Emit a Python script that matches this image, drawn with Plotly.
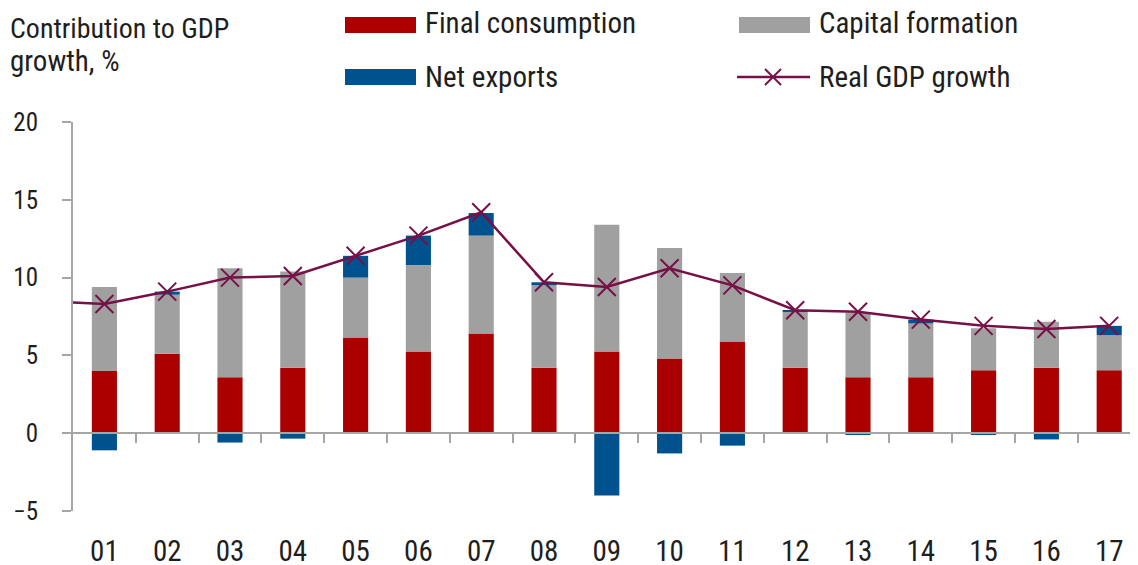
import plotly.graph_objects as go

# ---- data ----
years = ["01", "02", "03", "04", "05", "06", "07", "08", "09", "10",
         "11", "12", "13", "14", "15", "16", "17"]
final_consumption = [4.0, 5.1, 3.6, 4.2, 6.15, 5.25, 6.4, 4.2, 5.25, 4.8,
                     5.9, 4.2, 3.6, 3.6, 4.05, 4.2, 4.05]
capital_formation = [5.4, 3.8, 7.0, 6.2, 3.85, 5.55, 6.3, 5.3, 8.15, 7.1,
                     4.4, 3.6, 4.15, 3.45, 2.7, 2.97, 2.25]
net_exports = [-1.1, 0.2, -0.6, -0.35, 1.4, 1.9, 1.45, 0.2, -4.0, -1.3,
               -0.8, 0.1, -0.1, 0.25, -0.1, -0.4, 0.6]
gdp_years = ["00"] + years
real_gdp_growth = [8.5, 8.3, 9.1, 10.0, 10.1, 11.4, 12.7, 14.2, 9.7, 9.4,
                   10.6, 9.5, 7.9, 7.8, 7.3, 6.9, 6.7, 6.9]
y_ticks = [-5, 0, 5, 10, 15, 20]

# ---- styling ----
RED = "#AA0000"
GREY = "#A0A0A0"
BLUE = "#00528F"
LINE = "#771047"
AXIS = "#A6A6A6"
TXT = "#1E1E1E"
FONT = "Roboto Condensed, Liberation Sans Narrow, sans-serif"
TEXT_SIZE = 29

# page has an 8px body margin: figure is drawn 8px in from the window edge
OFF = 8
W, H = 1138 - OFF, 565 - OFF
ML, MR, MT = 73 - OFF, 0, 122 - OFF
PH = 389
MB = H - MT - PH
PW = W - ML - MR

def px(x):  # window pixel -> paper x
    return (x - OFF - ML) / PW

def py(y):  # window pixel -> paper y
    return (MT + PH - (y - OFF)) / PH

bar_x = list(range(1, len(years) + 1))
line_x = list(range(0, len(gdp_years)))
x_range = [0.5, 0.5 + PW / 62.8]

fig = go.Figure()
fig.add_bar(x=bar_x, y=final_consumption, name="Final consumption",
            marker=dict(color=RED, line=dict(width=0)), width=0.4)
fig.add_bar(x=bar_x, y=capital_formation, name="Capital formation",
            marker=dict(color=GREY, line=dict(width=0)), width=0.4)
fig.add_bar(x=bar_x, y=net_exports, name="Net exports",
            marker=dict(color=BLUE, line=dict(width=0)), width=0.4)
fig.add_scatter(x=line_x, y=real_gdp_growth, name="Real GDP growth",
                mode="lines+markers",
                line=dict(color=LINE, width=2.5),
                marker=dict(symbol="x-thin", size=18, color=LINE,
                            line=dict(width=2, color=LINE)))

# zero-line axis with category separators
fig.add_scatter(x=[bar_x[0]], y=[0], xaxis="x2", mode="markers",
                marker=dict(opacity=0), showlegend=False, hoverinfo="skip")

fig.update_layout(
    width=W, height=H,
    margin=dict(l=ML, r=MR, t=MT, b=MB, autoexpand=False),
    paper_bgcolor="white", plot_bgcolor="white",
    barmode="relative",
    showlegend=False,
    font=dict(family=FONT, color=TXT, size=TEXT_SIZE),
    xaxis=dict(range=x_range, tickvals=bar_x, ticktext=years,
               showline=False, showgrid=False, zeroline=False,
               ticks="", ticklabelstandoff=20, automargin=False,
               tickfont=dict(size=29)),
    xaxis2=dict(range=x_range, overlaying="x", anchor="free",
                position=(0 - y_ticks[0]) / (y_ticks[-1] - y_ticks[0]),
                side="bottom",
                tickvals=[v + 0.5 for v in bar_x[:-1]],
                ticks="outside", ticklen=9, tickwidth=2, tickcolor=AXIS,
                showticklabels=False, showline=True, linecolor=AXIS,
                linewidth=2, showgrid=False, zeroline=False),
    yaxis=dict(range=[y_ticks[0], y_ticks[-1]], tickvals=y_ticks,
               showline=True, linecolor=AXIS, linewidth=2,
               ticks="outside", ticklen=9, tickwidth=2, tickcolor=AXIS,
               showgrid=False, zeroline=False, ticklabelstandoff=19,
               automargin=False, tickfont=dict(size=25)),
)

# ---- title (two lines) ----
fig.add_annotation(text="Contribution to GDP", xref="paper", yref="paper",
                   x=px(8), y=py(28), xanchor="left", yanchor="middle",
                   showarrow=False, font=dict(size=TEXT_SIZE - 1))
fig.add_annotation(text="growth, %", xref="paper", yref="paper",
                   x=px(8), y=py(61), xanchor="left", yanchor="middle",
                   showarrow=False, font=dict(size=TEXT_SIZE))

# ---- legend (manual) ----
legend_items = [
    ("Final consumption", RED, 345, 25, 23),
    ("Capital formation", GREY, 739, 25, 23),
    ("Net exports", BLUE, 345, 77, 77),
]
for label, color, x0, yc, yt in legend_items:
    fig.add_shape(type="rect", xref="paper", yref="paper",
                  x0=px(x0), x1=px(x0 + 71), y0=py(yc - 8), y1=py(yc + 8),
                  fillcolor=color, line=dict(width=0))
    fig.add_annotation(text=label, xref="paper", yref="paper",
                       x=px(x0 + 78), y=py(yt), xanchor="left",
                       yanchor="middle", showarrow=False,
                       font=dict(size=TEXT_SIZE))

# line legend
lx0, lyc = 737, 77
fig.add_shape(type="line", xref="paper", yref="paper",
              x0=px(lx0), x1=px(lx0 + 73), y0=py(lyc), y1=py(lyc),
              line=dict(color=LINE, width=2.5))
cx = lx0 + 36
for dx, dy in [(8, 8), (8, -8)]:
    fig.add_shape(type="line", xref="paper", yref="paper",
                  x0=px(cx - dx), x1=px(cx + dx),
                  y0=py(lyc - dy), y1=py(lyc + dy),
                  line=dict(color=LINE, width=2))
fig.add_annotation(text="Real GDP growth", xref="paper", yref="paper",
                   x=px(lx0 + 80), y=py(lyc), xanchor="left",
                   yanchor="middle", showarrow=False,
                   font=dict(size=TEXT_SIZE))

fig.write_html("out.html")
